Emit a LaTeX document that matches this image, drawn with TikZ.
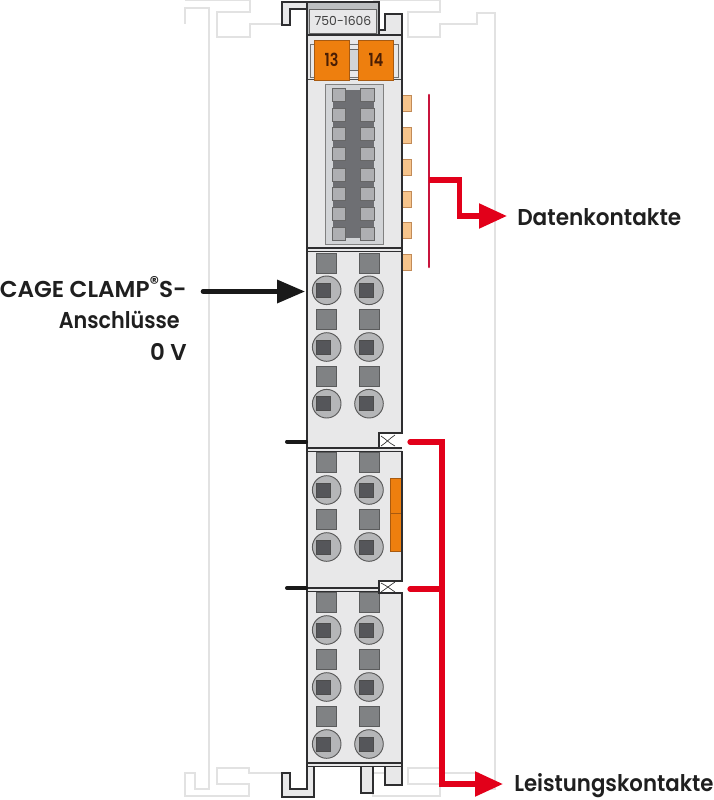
\documentclass[tikz,border=0pt]{standalone}
\usepackage{fontspec}
\setmainfont{Poppins}
\newfontfamily\labfont{Poppins SemiBold}
\usetikzlibrary{arrows.meta}
\definecolor{ghost}{HTML}{E2E2E2}
\definecolor{bodyfill}{HTML}{E8E8E9}
\definecolor{edge}{HTML}{2E2E30}
\definecolor{sqfill}{HTML}{808284}
\definecolor{circfill}{HTML}{B5B6B8}
\definecolor{innerfill}{HTML}{55565A}
\definecolor{orangefill}{HTML}{EE7F0E}
\definecolor{orangeedge}{HTML}{A85A10}
\definecolor{contactfill}{HTML}{F6C48C}
\definecolor{redthin}{HTML}{C8143C}
\definecolor{redthick}{HTML}{E2001A}
\definecolor{slotfill}{HTML}{D2D4D7}
\definecolor{slotdark}{HTML}{6E6F73}
\definecolor{pinfill}{HTML}{AEAFB2}
\definecolor{marktext}{HTML}{4A1E04}
\tikzset{
  ghostline/.style={draw=ghost,line width=1.1pt,line join=miter},
  edgeline/.style={draw=edge,line width=1.2pt},
  thinedge/.style={draw=edge,line width=.9pt},
  hookshape/.style={fill=bodyfill,draw=edge,line width=1.2pt},
  termsq/.style={fill=sqfill,draw=sqfill!70!black,line width=.6pt},
  termcirc/.style={fill=circfill,draw=black!65,line width=.7pt},
  terminner/.style={fill=innerfill,draw=black!70,line width=.6pt},
  pin/.style={fill=pinfill,draw=black!60,line width=.6pt},
  contact/.style={fill=contactfill,draw=orangeedge!70,line width=.6pt},
  orangebox/.style={fill=orangefill,draw=orangeedge,line width=.6pt},
  markbox/.style={orangebox,minimum width=26.2pt,minimum height=30pt,inner sep=0pt,font=\labfont\fontsize{13.5}{14}\selectfont,text=marktext},
  labeltext/.style={inner sep=0pt,font=\labfont\fontsize{17.2}{20}\selectfont,text=black!88},
  redbus/.style={draw=redthick,line width=3.9pt,line cap=round,line join=miter},
  redarrow/.style={redbus,-{Triangle[length=21pt,width=18pt]}},
  blackarrow/.style={draw=black!90,line width=3.4pt,line cap=round,-{Triangle[length=21pt,width=17pt]}},
  tick/.style={draw=black!90,line width=3pt,line cap=round}
}
\newcommand{\terminalpair}[2]{%
  \foreach \cx/\ix/\sx in {326.7/316/316,369/359/359}{
    \draw[termsq] (\sx,#1) rectangle ++(20.5,20);
    \draw[termcirc] (\cx,#2) circle[radius=14.3];
    \draw[terminner] (\ix,#2-7) rectangle ++(14,14);
  }}
\begin{document}
\begin{tikzpicture}[x=.75pt,y=-.75pt]
\useasboundingbox (0,0) rectangle (714,800);
% ghost rails
\draw[ghostline] (185,24)--(185,8)--(209,8)--(209,789)--(195,789)--(195,773)--(185,773)--(185,796)--(249,796)--(249,784)--(217,784)--(217,768)--(249,768)--(249,773)--(282,773);
\draw[ghostline] (185,0)--(250,0)--(250,12)--(217,12)--(217,37)--(250,37)--(250,24)--(282,24);
\draw[ghostline] (373,0)--(440,0)--(440,12)--(408,12)--(408,37)--(440,37)--(440,24)--(477,24)--(477,13)--(495,13)--(495,789)--(478,789)--(478,773)--(440,773)--(440,768)--(408,768)--(408,784)--(440,784)--(440,796)--(373,796)--(373,773)--(385,773);
% top latch
\draw[hookshape] (307,9)--(290,9)--(290,25)--(282,25)--(282,2)--(307,2);
\draw[hookshape,fill=bodyfill] (379,30)--(385,30)--(385,14)--(402,14)--(402,36)--(379,36);
% body
\fill[bodyfill] (307,35) rectangle (402,767);
\draw[fill=slotfill!90!black,edgeline] (307,35)--(307,2)--(379,2)--(379,35)--cycle;
\draw[fill=bodyfill,draw=black!60,line width=.6pt] (309.5,9) rectangle (376.5,33);
\node[inner sep=0pt,font=\fontsize{9.3}{10}\selectfont,text=black!75] (typeno) at (343,20.5) {750-1606};
% marker strip
\draw[draw=black!55,fill=bodyfill,line width=.5pt] (310,44) rectangle (398,77);
\fill[slotfill] (349,49) rectangle (358,70);
\draw[black!60,line width=.5pt] (349,49)--(358,49) (349,70)--(358,70);
\draw[black!70,line width=.6pt] (307,79)--(402,79);
\node[markbox] (m13) at (331.5,60.3) {\scalebox{.8}[1]{13}};
\node[markbox] (m14) at (376,60.3) {\scalebox{.8}[1]{14}};
% connector slot
\draw[fill=slotfill,draw=black!50,line width=.6pt] (325,84) rectangle (383,244);
\fill[slotdark] (333,90) rectangle (374,238);
\foreach \py in {88,108,127,147,168,187,207,227}{
  \draw[pin] (332.7,\py) rectangle ++(13,13.3);
  \draw[pin] (360.7,\py) rectangle ++(13.3,13.3);
}
% data contacts
\foreach \py in {95,127,159,191,222,254}{
  \draw[contact] (402,\py) rectangle ++(9,16);
}
% terminals
\terminalpair{253}{290.3}
\terminalpair{309}{347}
\terminalpair{366}{403.7}
\terminalpair{452}{490}
\terminalpair{509}{547}
\terminalpair{592}{630}
\terminalpair{649}{687}
\terminalpair{706}{744}
% orange power jumper
\draw[orangebox] (390,478) rectangle (402,551);
\draw[orangeedge,line width=.6pt] (390,513)--(402,513);
% notches
\fill[white] (379,433) rectangle (403,447);
\fill[white] (379,581) rectangle (403,593);
\draw[black!75,line width=.8pt] (379.5,434)--(379.5,447);
\draw[black!80,line width=.5pt] (381,436)..controls (387,440) and (389,443) ..(395,446);
\draw[black!80,line width=.5pt] (381,446)..controls (387,442) and (389,439) ..(395,435);
\draw[black!80,line width=.5pt] (381,583)..controls (387,586) and (389,588) ..(395,592);
\draw[black!80,line width=.5pt] (381,592)..controls (387,588) and (389,586) ..(395,582);
% outlines
\draw[edgeline] (307,35)--(307,767);
\draw[thinedge] (402,35)--(402,433)--(379,433)--(379,448);
\draw[thinedge] (402,451)--(402,581)--(379,581)--(379,593)--(402,593)--(402,767);
\draw[edgeline] (307,35)--(402,35);
\draw[edgeline] (307,248)--(402,248) (307,251.5)--(402,251.5);
\draw[edgeline] (307,448)--(402,448) (307,451.5)--(402,451.5);
\draw[edgeline] (307,588)--(379,588) (307,591.5)--(379,591.5);
\draw[edgeline] (307,763)--(402,763) (307,766.5)--(402,766.5);
% feet
\draw[hookshape] (307,767)--(307,789)--(290,789)--(290,773)--(282,773)--(282,797)--(314,797)--(314,767);
\draw[hookshape] (361,767)--(361,793)--(373,793)--(373,767);
\draw[hookshape] (385,767)--(385,785)--(402,785)--(402,767);
% ticks
\coordinate (tickAa) at (287,441.5);
\coordinate (tickAb) at (306,441.5);
\coordinate (tickBa) at (287,588);
\coordinate (tickBb) at (306,588);
\draw[tick] (tickAa)--(tickAb);
\draw[tick] (tickBa)--(tickBb);
% labels
\node[labeltext,anchor=base east] (cage) at (187,297) {\resizebox{140.2pt}{\height}{CAGE CLAMP\raisebox{5.5pt}{\scalebox{.8}{®}}S-}};
\node[labeltext,anchor=base east] (ansch) at (180,328) {\resizebox{90.7pt}{\height}{Anschlüsse}};
\node[labeltext,anchor=base east] (zerov) at (187,360) {0 V};
\node[labeltext,anchor=base west] (daten) at (517,225) {\resizebox{123pt}{\height}{Datenkontakte}};
\node[labeltext,anchor=base west] (leist) at (514,791) {\resizebox{149.5pt}{\height}{Leistungskontakte}};
% connectors
\coordinate (blackstart) at (203,291.5);
\coordinate (blackend) at (305,291.5);
\draw[blackarrow] (blackstart)--(blackend);
\coordinate (dataTop) at (429,95);
\coordinate (dataBot) at (429,267);
\coordinate (dataMid) at (429,180);
\coordinate (dataBend) at (459.5,180);
\coordinate (dataKnee) at (459.5,216);
\coordinate (dataTip) at (507,216);
\draw[draw=redthin,line width=1.9pt,line cap=round] (dataTop)--(dataBot);
\draw[redarrow,line cap=butt] (dataMid)--(dataBend)--(dataKnee)--(dataTip);
\coordinate (powA) at (410,442);
\coordinate (powB) at (410,589);
\coordinate (powCorner) at (442,442);
\coordinate (powJoin) at (442,589);
\coordinate (powKnee) at (442,784);
\coordinate (powTip) at (503,784);
\draw[redbus] (powB)--(powJoin);
\draw[redarrow] (powA)--(powCorner)--(powKnee)--(powTip);
\end{tikzpicture}
\end{document}
